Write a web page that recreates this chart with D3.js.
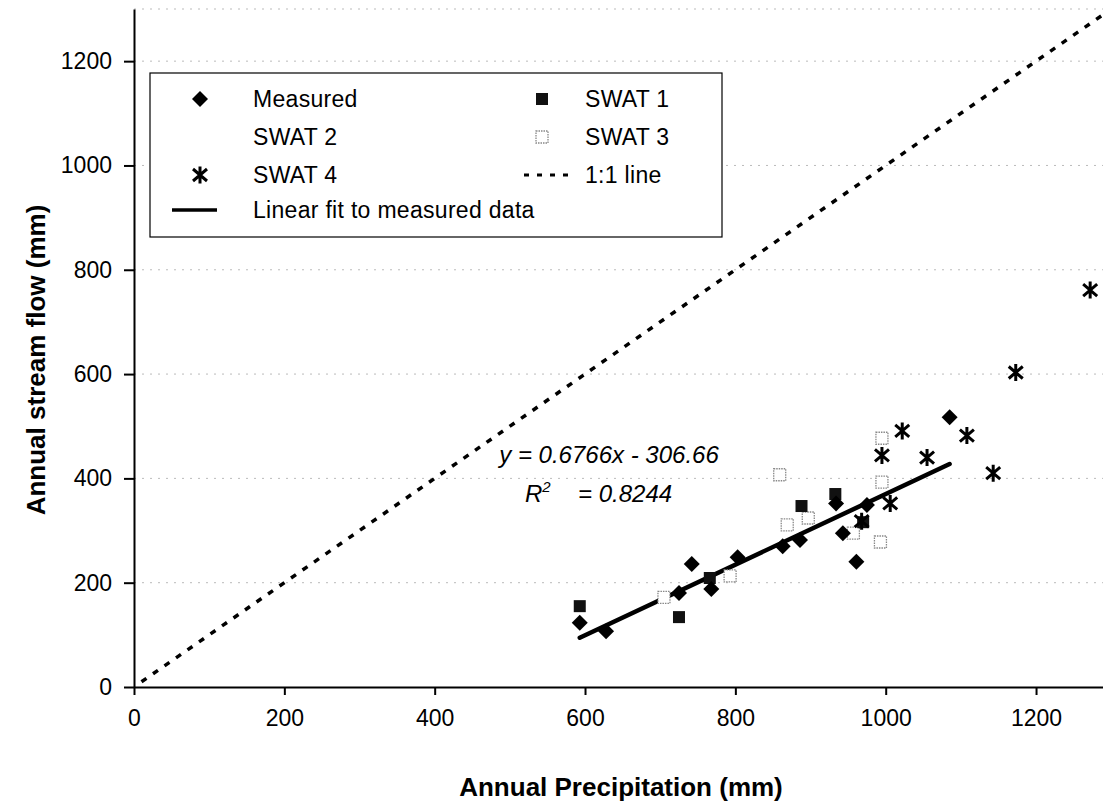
<!DOCTYPE html>
<meta charset="utf-8">
<title>Annual stream flow vs precipitation</title>
<style>
  body { margin: 0; background: #fff; }
  svg { font-family: "Liberation Sans", Arial, sans-serif; }
  .grid line { stroke: #bbb; stroke-dasharray: 2 6; }
  .axis path, .axis line { stroke: #000; stroke-width: 2; }
  .axis text { font-size: 23px; fill: #000; }
</style>
<body>
<script src="https://cdn.jsdelivr.net/npm/d3@7"></script>
<script>

// data: [precipitation, stream flow] in mm
var measured = [[593,123],[628,107],[725,180],[742,236],[768,188],[803,249],[863,270],
                [886,282],[934,352],[943,295],[961,240],[975,349],[1085,517]];
var swat1 = [[593,155],[725,134],[766,209],[888,347],[933,370],[970,316]];
var swat3 = [[705,172],[793,213],[859,407],[869,311],[897,324],[957,295],
             [995,477],[995,393],[993,278]];
var swat4 = [[968,318],[1006,352],[995,444],[1022,491],[1055,440],[1108,482],
             [1143,410],[1173,603],[1272,761]];
var fit = {slope: 0.6766, intercept: -306.66, r2: "0.8244"};
var xTicks = [0, 200, 400, 600, 800, 1000, 1200];
var yTicks = [0, 200, 400, 600, 800, 1000, 1200];

var W = 1103, H = 810;
var margin = {top: 9, left: 134, bottom: 123};

var x = d3.scaleLinear().domain([0, 1300]).range([margin.left, margin.left + 1300 * 0.7517]);
var y = d3.scaleLinear().domain([0, 1300]).range([H - margin.bottom, margin.top]);

var svg = d3.select("body").append("svg")
  .attr("width", W).attr("height", H);

// grid lines
svg.append("g").attr("class", "grid")
  .selectAll("line").data(yTicks.slice(1).concat([1300])).enter().append("line")
  .attr("x1", x(0)).attr("x2", W)
  .attr("y1", function(d) { return y(d); }).attr("y2", function(d) { return y(d); });

// 1:1 line
svg.append("line")
  .attr("x1", x(10)).attr("y1", y(10)).attr("x2", x(1300)).attr("y2", y(1300))
  .attr("stroke", "#000").attr("stroke-width", 3.5).attr("stroke-dasharray", "6 8");

// linear fit over measured range
var xr = d3.extent(measured, function(d) { return d[0]; });
svg.append("line")
  .attr("x1", x(xr[0])).attr("y1", y(fit.slope * xr[0] + fit.intercept))
  .attr("x2", x(xr[1])).attr("y2", y(fit.slope * xr[1] + fit.intercept))
  .attr("stroke", "#000").attr("stroke-width", 4.5).attr("stroke-linecap", "round");

// marker shapes
function diamond(g) {
  g.append("path").attr("d", "M0,-8L8,0L0,8L-8,0Z").attr("fill", "#000");
}
function square(g) {
  g.append("rect").attr("x", -6).attr("y", -6).attr("width", 12).attr("height", 12).attr("fill", "#111");
}
function openSquare(g) {
  g.append("rect").attr("x", -6).attr("y", -6).attr("width", 12).attr("height", 12)
    .attr("fill", "#fff").attr("stroke", "#888").attr("stroke-width", 1.3).attr("stroke-dasharray", "1.5 1");
}
function star(g) {
  g.append("path").attr("d", "M0,-8.5V8.5M-7,-6L7,6M-7,6L7,-6")
    .attr("stroke", "#000").attr("stroke-width", 3);
}

function plot(data, shape) {
  svg.append("g").selectAll("g").data(data).enter().append("g")
    .attr("transform", function(d) { return "translate(" + x(d[0]) + "," + y(d[1]) + ")"; })
    .each(function() { shape(d3.select(this)); });
}
plot(swat3, openSquare);
plot(swat1, square);
plot(measured, diamond);
plot(swat4, star);

// axes
svg.append("g").attr("class", "axis")
  .attr("transform", "translate(0," + y(0) + ")")
  .call(d3.axisBottom(x).tickValues(xTicks).tickFormat(d3.format("d"))
    .tickSize(8).tickSizeOuter(0).tickPadding(15));
svg.append("g").attr("class", "axis")
  .attr("transform", "translate(" + x(0) + ",0)")
  .call(d3.axisLeft(y).tickValues(yTicks).tickFormat(d3.format("d"))
    .tickSize(10).tickSizeOuter(0).tickPadding(12));
svg.selectAll(".axis .domain").attr("stroke-width", 2.5);

// axis titles
svg.append("text")
  .attr("x", 621).attr("y", 796)
  .attr("text-anchor", "middle").style("font-size", "26px").style("font-weight", "bold")
  .text("Annual Precipitation (mm)");
svg.append("text")
  .attr("transform", "translate(45," + 360 + ") rotate(-90)")
  .attr("text-anchor", "middle").style("font-size", "26px").style("font-weight", "bold")
  .text("Annual stream flow (mm)");

// equation
svg.append("text")
  .attr("x", 609).attr("y", 463).attr("text-anchor", "middle")
  .style("font-size", "24px").style("font-style", "italic")
  .text("y = " + fit.slope + "x - " + Math.abs(fit.intercept));
var r = svg.append("text")
  .attr("x", 525).attr("y", 502)
  .style("font-size", "24px").style("font-style", "italic");
r.append("tspan").text("R");
r.append("tspan").attr("dy", -10).style("font-size", "15px").text("2");
r.append("tspan").attr("x", 578).attr("dy", 10).text("= " + fit.r2);

// legend
var lg = svg.append("g").attr("transform", "translate(150,73)");
lg.append("rect").attr("width", 572).attr("height", 164)
  .attr("fill", "#fff").attr("stroke", "#000").attr("stroke-width", 1.2);
var items = [
  {label: "Measured", col: 0, row: 0, shape: diamond},
  {label: "SWAT 1", col: 1, row: 0, shape: square},
  {label: "SWAT 2", col: 0, row: 1, shape: null},
  {label: "SWAT 3", col: 1, row: 1, shape: openSquare},
  {label: "SWAT 4", col: 0, row: 2, shape: star},
  {label: "1:1 line", col: 1, row: 2, shape: "dots"},
  {label: "Linear fit to measured data", col: 0, row: 3, shape: "line"}
];
var rowY = [26, 64, 102, 137];
items.forEach(function(it) {
  var mx = it.col === 0 ? 50 : 392, tx = it.col === 0 ? 103 : 435;
  var g = lg.append("g").attr("transform", "translate(" + mx + "," + rowY[it.row] + ")");
  if (it.shape === "line") {
    g.append("line").attr("x1", -28).attr("x2", 17).attr("stroke", "#000").attr("stroke-width", 3.5);
  } else if (it.shape === "dots") {
    g.append("line").attr("x1", -18).attr("x2", 30).attr("stroke", "#000")
      .attr("stroke-width", 3).attr("stroke-dasharray", "5 8");
  } else if (it.shape) {
    it.shape(g);
  }
  lg.append("text").attr("x", tx).attr("y", rowY[it.row] + 8)
    .style("font-size", "23px").style("letter-spacing", "0.3px").text(it.label);
});

</script>
</body>
